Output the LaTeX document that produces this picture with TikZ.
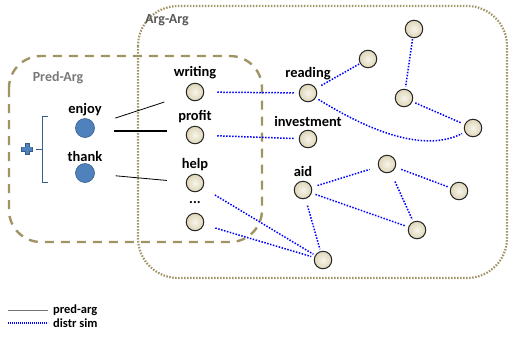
\documentclass[tikz,border=0pt]{standalone}
\usepackage{fontspec}
\setmainfont{Carlito}
\definecolor{olive}{RGB}{160,148,100}
\definecolor{nodeblue}{RGB}{79,129,189}
\definecolor{nodeblueb}{RGB}{56,93,138}
\definecolor{beige}{RGB}{222,214,182}
\definecolor{labgray}{RGB}{120,120,120}
\tikzset{
  argnode/.style={circle,draw=black!85,line width=1bp,inner color=white!75!beige,outer color=beige,minimum size=17.5bp,inner sep=0pt},
  prednode/.style={circle,draw=nodeblueb,line width=0.6bp,fill=nodeblue,minimum size=19bp,inner sep=0pt},
  lab/.style={font=\bfseries\fontsize{14.5}{14.5}\selectfont,inner sep=0pt},
  boxlab/.style={font=\bfseries\fontsize{14}{14}\selectfont,text=labgray,inner sep=0pt},
  dsim/.style={draw=blue,line width=1.5bp,dash pattern=on 1.5bp off 1.5bp},
  parg/.style={draw=black,line width=0.8bp},
  legtxt/.style={font=\bfseries\fontsize{12.5}{12.5}\selectfont,anchor=west,inner sep=0pt},
}
\begin{document}
\begin{tikzpicture}[x=1bp,y=-1bp]
\useasboundingbox (0,0) rectangle (510,341);
% boxes
\draw[olive,line width=2.2bp,dash pattern=on 1.5bp off 1.5bp,rounded corners=40bp] (138,6) rectangle (507,278);
\draw[olive,line width=2.4bp,dash pattern=on 9bp off 7bp,rounded corners=32bp] (9,56) rectangle (262,242);
\node[boxlab,text=black!65] (aalab) at (167,20) {Arg-Arg};
\node[boxlab] (palab) at (58,78) {Pred-Arg};
% pred nodes
\node[prednode] (enjoy) at (85,128) {};
\node[lab] (enjoyl) at (85,110) {enjoy};
\node[prednode] (thank) at (85,173) {};
\node[lab] (thankl) at (85,156) {thank};
% brace and plus
\coordinate (bt) at (48,116);
\coordinate (bb) at (48,182);
\draw[nodeblueb,line width=1bp] (bt) -- (42,116) -- (42,182) -- (bb);
\coordinate (bm) at (42,149);
\coordinate (bm2) at (36,149);
\draw[nodeblueb,line width=1bp] (bm) -- (bm2);
\node[fill=nodeblue,draw=nodeblueb,line width=0.4bp,inner sep=0pt,minimum width=11bp,minimum height=4bp] (plush) at (27,149) {};
\node[fill=nodeblue,draw=nodeblueb,line width=0.4bp,inner sep=0pt,minimum width=4bp,minimum height=11bp] (plusv) at (27,149) {};
\node[fill=nodeblue,inner sep=0pt,minimum width=10.2bp,minimum height=3.2bp] (plusc) at (27,149) {};
% arg nodes left
\node[argnode] (writing) at (195,92) {};
\node[lab] (writingl) at (195,73) {writing};
\node[argnode] (profit) at (195,135) {};
\node[lab] (profitl) at (195,117) {profit};
\node[argnode] (help) at (195,183) {};
\node[lab] (helpl) at (195,165) {help};
\node[argnode] (dots) at (195,222) {};
\node[lab] (dotsl) at (195,203) {...};
% arg nodes right
\node[argnode] (reading) at (308,93) {};
\node[lab] (readingl) at (308,74) {reading};
\node[argnode] (invest) at (308,139) {};
\node[lab] (investl) at (308,121) {investment};
\node[argnode] (aid) at (303,190) {};
\node[lab] (aidl) at (303,171) {aid};
\node[argnode] (n1) at (368,59) {};
\node[argnode] (n2) at (414,29) {};
\node[argnode] (n3) at (404,98) {};
\node[argnode] (n4) at (473,128) {};
\node[argnode] (n5) at (387,164) {};
\node[argnode] (n6) at (459,191) {};
\node[argnode] (n7) at (417,230) {};
\node[argnode] (n8) at (323,260) {};
% pred-arg connectors
\draw[parg,shorten <=22bp,shorten >=23bp] (enjoy) -- (writing);
\draw[parg,line width=2.2bp,shorten <=19.5bp,shorten >=18.5bp] (enjoy.east) ++(0,3) coordinate (ep) (ep) -- (profit.west |- ep);
\draw[parg,shorten <=21bp,shorten >=19bp] (thank) -- (help);
% distr sim
\draw[dsim,shorten <=13bp,shorten >=5bp] (writing) -- (reading);
\draw[dsim,shorten <=13bp,shorten >=5bp] (profit) -- (invest);
\draw[dsim,shorten <=14bp,shorten >=2bp] (help) -- (n8);
\draw[dsim,shorten <=12bp,shorten >=3bp] (dots) -- (n8);
\draw[dsim,shorten <=6bp,shorten >=1bp] (reading) -- (n1);
\draw[dsim,shorten <=3bp,shorten >=3bp] (reading) .. controls (360,125) and (420,155) .. (n4);
\draw[dsim,shorten <=1bp,shorten >=2bp] (n2) -- (n3);
\draw[dsim,shorten <=3bp,shorten >=3bp] (n3) -- (n4);
\draw[dsim,shorten <=6bp,shorten >=9bp] (aid) -- (n5);
\draw[dsim,shorten <=6bp,shorten >=2bp] (n5) -- (n6);
\draw[dsim,shorten <=10bp,shorten >=2bp] (n5) -- (n7);
\draw[dsim,shorten <=4bp,shorten >=3bp] (aid) -- (n7);
\draw[dsim,shorten <=7bp,shorten >=2bp] (aid) -- (n8);
% legend
\coordinate (l1a) at (8,310);
\coordinate (l1b) at (48,310);
\coordinate (l2a) at (8,323);
\coordinate (l2b) at (48,323);
\draw[gray!90!black,line width=1bp] (l1a) -- (l1b);
\draw[blue,line width=1.3bp,dash pattern=on 1bp off 1bp] (l2a) -- (l2b);
\node[legtxt] (leg1) at (53,310) {pred-arg};
\node[legtxt] (leg2) at (53,323.5) {distr sim};
\end{tikzpicture}
\end{document}
